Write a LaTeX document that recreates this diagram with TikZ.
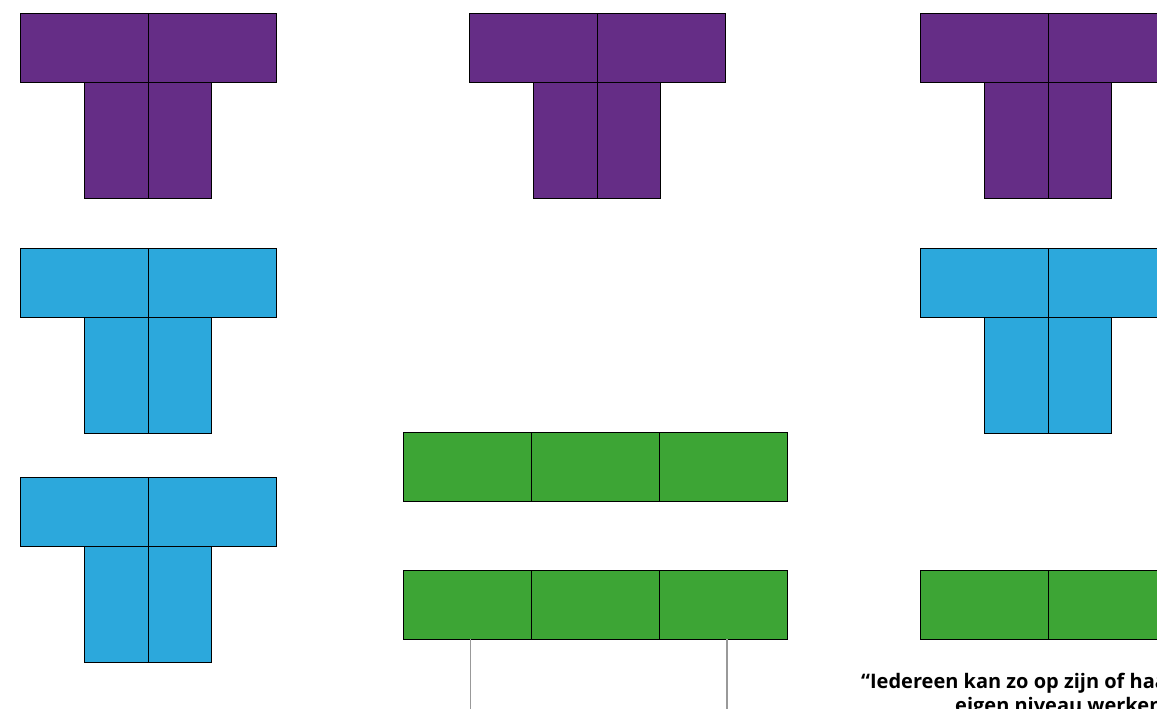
\documentclass[tikz,border=0pt]{standalone}
\usepackage{fontspec}
\setmainfont{Open Sans}
\definecolor{tpurple}{HTML}{652D86}
\definecolor{tblue}{HTML}{2CA8DC}
\definecolor{tgreen}{HTML}{3DA535}
\begin{document}
\begin{tikzpicture}[x=1pt,y=-1pt,
  cell/.style={draw=black,line width=0.8pt},
  pcell/.style={cell,fill=tpurple},
  bcell/.style={cell,fill=tblue},
  gcell/.style={cell,fill=tgreen},
  leg/.style={draw=gray!80,line width=1.2pt},
  quote/.style={font=\fontsize{20}{23}\selectfont\bfseries,inner sep=0pt,anchor=base west}]
\useasboundingbox (0,0) rectangle (1157,709);
\clip (0,0) rectangle (1157,709);
\foreach \x/\y/\s in {20/13/pcell,469/13/pcell,920/13/pcell,20/248/bcell,920/248/bcell,20/477/bcell}{
  \path[\s] (\x,\y) rectangle ++(128,69);
  \path[\s] (\x+128,\y) rectangle ++(128,69);
  \path[\s] (\x+64,\y+69) rectangle ++(64,116);
  \path[\s] (\x+128,\y+69) rectangle ++(63.5,116);
}
\foreach \y in {432,570}{
  \foreach \i in {0,1,2}{
    \path[gcell] (403+128*\i,\y) rectangle ++(128,69);
  }
}
\path[gcell] (920,570) rectangle ++(128,69);
\path[gcell] (1048,570) rectangle ++(128,69);
\coordinate (la) at (470.5,639);
\coordinate (lb) at (727,639);
\coordinate (la2) at (470.5,712);
\coordinate (lb2) at (727,712);
\draw[leg] (la) -- (la2);
\draw[leg] (lb) -- (lb2);
\node[quote] (q1) at (861,688) {“Iedereen kan zo op zijn of haar};
\node[quote] (q2) at (955,712) {eigen niveau werken};
\end{tikzpicture}
\end{document}
